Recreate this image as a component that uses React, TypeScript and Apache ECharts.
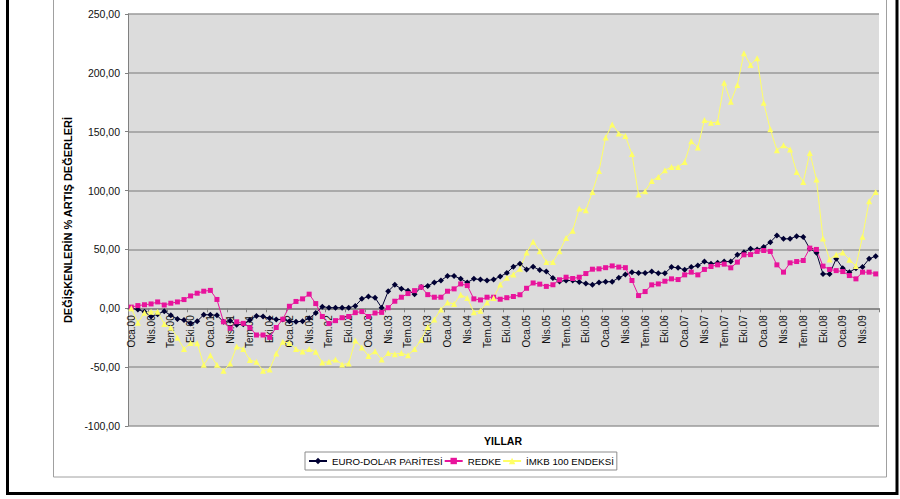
import React, { useEffect, useRef } from "react";
import * as echarts from "echarts";

const monthNames = ["Oca", "Şub", "Mar", "Nis", "May", "Haz", "Tem", "Ağu", "Eyl", "Eki", "Kas", "Ara"];
const years = ["00", "01", "02", "03", "04", "05", "06", "07", "08", "09"];
const lastMonthCount = 114;

const categories: string[] = [];
for (const y of years) {
  for (const m of monthNames) {
    if (categories.length < lastMonthCount) categories.push(m + "." + y);
  }
}

const euroDolar = [
  0, -1, -3, -7, -5, -2.5, -6, -9, -10, -13, -11, -5.5, -5.5, -6, -11.5, -10.5, -14, -13.5, -10, -6.5,
  -7, -8.5, -9.5, -9.5, -11, -11.5, -11, -8.5, -4, 1.4, 0.5, 0.5, 0.5, 0.5, 2, 8, 10, 9, 0.5, 14.5,
  20, 16.5, 15, 12, 18, 19, 22, 23.6, 27.5, 27.5, 25, 22, 25, 24.4, 23.6, 24.4, 27, 30, 35.3, 37.8,
  33, 35.3, 32.5, 31.2, 25.7, 22.8, 23.6, 23.5, 22.3, 21, 20, 22, 22.5, 22.6, 26, 28.6, 30.7, 30, 30, 31.2,
  29.8, 29.8, 35, 34.4, 32.7, 35, 36.3, 39.7, 37.8, 38.6, 39.7, 39.7, 45.4, 47.7, 50.5, 50, 52, 56.2, 61.9, 59,
  59, 61.3, 60.5, 50.5, 47.1, 29.2, 29.2, 42, 34, 30.7, 34, 35, 42, 44.3,
];

const redke = [
  1, 2.3, 3, 3.7, 5.4, 2.8, 4.3, 5.4, 7.4, 10.5, 12.8, 14.5, 15.2, 7.5, -11.5, -17, -11.5, -12.8, -16.5, -22.7,
  -22.7, -24.7, -16.3, -9.3, 1.7, 5.8, 8, 12, 4, -7, -13, -10.5, -8, -7, -3.7, -2.8, -7, -4, -3.5, 0.5,
  6, 9.4, 12.5, 15, 18, 11.6, 9.4, 9.4, 14.5, 16.5, 20.7, 19.3, 8, 7.1, 9.4, 9.4, 7.7, 9, 10, 11.5,
  17, 21.5, 20.5, 18.6, 20, 24.2, 26.4, 25.3, 26.4, 29.5, 33.2, 33.5, 34.5, 36, 35, 34.5, 23.6, 10.8, 14.2, 19.9,
  20.7, 23, 25, 24.4, 28.4, 30.7, 28.4, 33, 35.5, 36.9, 37.5, 34.4, 39.2, 45.4, 45.6, 48.3, 49.1, 48.3, 36.9, 30.7,
  38.6, 39.7, 40.6, 51.1, 50, 35.8, 33, 32, 31.2, 27.8, 25, 30.7, 30.7, 29.2,
];

const imkb100 = [
  0, -12.3, -3.7, -3, -3, -13.3, -16.5, -25, -34.6, -29.5, -29.6, -48, -40, -48, -53, -47, -32.5, -34.6, -44, -45.5,
  -53, -52, -38.5, -28.5, -29.5, -34.6, -36.8, -34.6, -37, -46, -45.4, -43.5, -47.7, -47, -27.3, -33.3, -40.5, -36.5, -43.5, -38,
  -39, -38, -40, -34.6, -27, -16, -9.5, -1, 5, 3.7, 11.4, 8.8, -3.4, -2, 5, 8.8, 20.3, 26, 28.8, 33.5,
  47.4, 56.5, 48.5, 39.4, 39.4, 48.5, 59.8, 65.9, 84.7, 83.2, 98.8, 116.7, 145, 156.2, 148.5, 146.3, 131, 96.6, 99.4, 108.2,
  111.6, 117.3, 120, 120, 124.3, 142, 136.6, 159.9, 157.6, 158.2, 191.7, 175.5, 189.7, 216.7, 206.7, 212.4, 174.6, 152, 134.3, 138.6,
  134.9, 115.8, 107.3, 132, 109.4, 59.3, 41.5, 45.5, 47.3, 41.3, 36, 60.8, 91, 98.8,
];

const seriesNames = ["EURO-DOLAR PARİTESİ", "REDKE", "İMKB 100 ENDEKSİ"];
const yTicksMin = -100;
const yTicksMax = 250;
const yTickStep = 50;

const FONT = "'Liberation Sans', Arial, sans-serif";

const GRID_TOP = 14;
const GRID_BOTTOM = 73;
const CHART_H = 499;

export default function App() {
  const ref = useRef<HTMLDivElement>(null);
  useEffect(() => {
    if (!ref.current) return;
    const chart = echarts.init(ref.current, null, { renderer: "svg" });
    const plotH = CHART_H - GRID_TOP - GRID_BOTTOM;
    // distance from the bottom of the plot up to the zero line
    const zeroOffset = (plotH * (0 - yTicksMin)) / (yTicksMax - yTicksMin);
    chart.setOption({
      animation: false,
      backgroundColor: "#ffffff",
      textStyle: { fontFamily: FONT },
      grid: {
        left: 128,
        right: 21,
        top: GRID_TOP,
        bottom: GRID_BOTTOM,
        show: true,
        backgroundColor: "#dcdcdc",
        borderWidth: 0,
      },
      legend: {
        left: 305,
        top: 452,
        orient: "horizontal",
        itemWidth: 18,
        itemHeight: 8,
        itemGap: 1,
        padding: [4, 3],
        borderColor: "#8c8c8c",
        borderWidth: 1,
        textStyle: { fontSize: 9.7, color: "#000", fontFamily: FONT },
        data: seriesNames,
      },
      xAxis: {
        type: "category",
        data: categories,
        boundaryGap: true,
        position: "bottom",
        offset: -zeroOffset,
        axisLine: { onZero: false, lineStyle: { color: "#808080", width: 1.5 } },
        axisTick: { show: true, interval: 2, length: 4, lineStyle: { color: "#808080" } },
        axisLabel: {
          interval: 2,
          rotate: 90,
          fontSize: 10,
          color: "#111",
          margin: 7,
          fontFamily: FONT,
        },
        splitLine: { show: false },
      },
      yAxis: {
        type: "value",
        min: yTicksMin,
        max: yTicksMax,
        interval: yTickStep,
        name: "DEĞİŞKENLERİN % ARTIŞ DEĞERLERİ",
        nameLocation: "middle",
        nameGap: 37,
        nameTextStyle: { fontWeight: "bold", fontSize: 11, color: "#000", fontFamily: FONT },
        axisLine: { show: true, lineStyle: { color: "#808080" } },
        axisTick: { show: true, length: 3, lineStyle: { color: "#808080" } },
        axisLabel: {
          fontSize: 10.5,
          color: "#111",
          margin: 8,
          fontFamily: FONT,
          formatter: (v: number) => v.toFixed(2).replace(".", ","),
        },
        splitLine: { show: true, lineStyle: { color: "#9a9a9a", width: 1.5 } },
      },
      series: [
        {
          type: "line",
          name: seriesNames[0],
          data: euroDolar,
          symbol: "diamond",
          symbolSize: 6,
          showAllSymbol: true,
          itemStyle: { color: "#000033" },
          lineStyle: { width: 1, color: "#000033" },
        },
        {
          type: "line",
          name: seriesNames[1],
          data: redke,
          symbol: "rect",
          symbolSize: 5,
          showAllSymbol: true,
          itemStyle: { color: "#e8149c" },
          lineStyle: { width: 1, color: "#e8149c" },
        },
        {
          type: "line",
          name: seriesNames[2],
          data: imkb100,
          symbol: "triangle",
          symbolSize: 6,
          showAllSymbol: true,
          itemStyle: { color: "#ffff66" },
          lineStyle: { width: 1, color: "#ffff66" },
        },
      ],
      graphic: [
        {
          type: "rect",
          silent: true,
          shape: { x: 53.5, y: -5, width: 833, height: 482 },
          style: { fill: "none", stroke: "#a0a0a0", lineWidth: 1 },
          z: -1,
        },
        {
          type: "rect",
          silent: true,
          shape: { x: 7.5, y: -10, width: 889.5, height: 503.5 },
          style: { fill: "none", stroke: "#000", lineWidth: 3 },
        },
        {
          type: "text",
          x: 503,
          y: 441,
          style: {
            text: "YILLAR",
            fontFamily: FONT,
            fontSize: 10.5,
            fontWeight: "bold",
            fill: "#000",
            textAlign: "center",
            textVerticalAlign: "middle",
          },
        },
      ],
    });
    return () => chart.dispose();
  }, []);
  return <div ref={ref} style={{ position: "absolute", left: 0, top: 0, width: 900, height: 499 }} />;
}
